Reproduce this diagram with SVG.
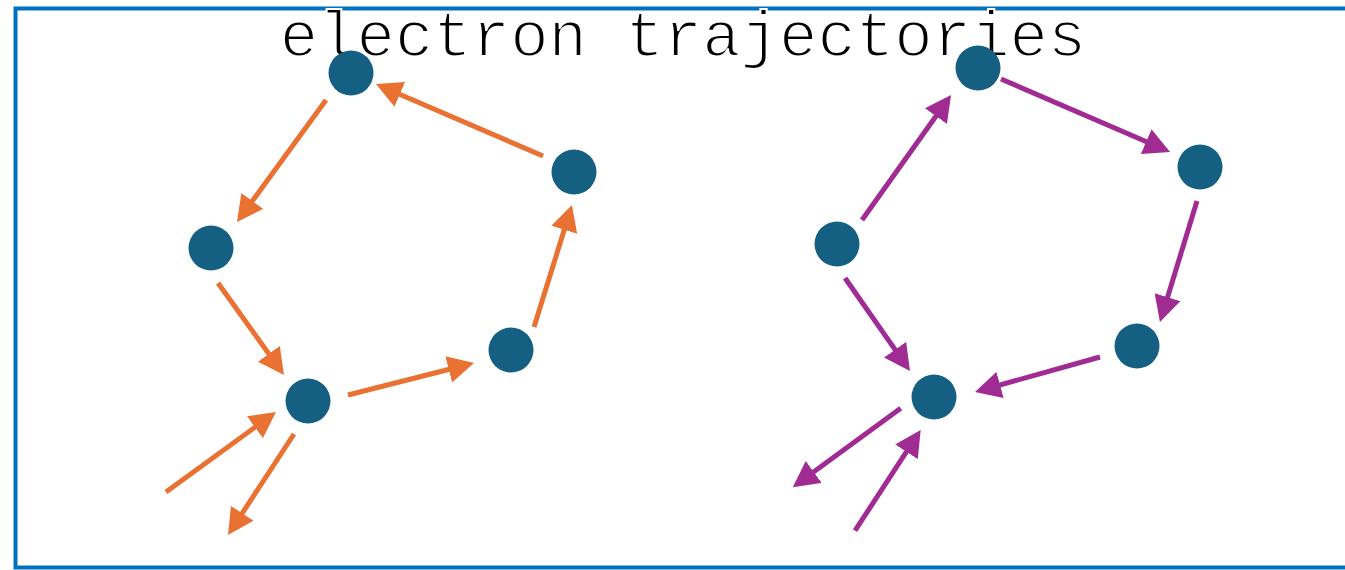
<svg xmlns="http://www.w3.org/2000/svg" width="1345" height="570" viewBox="0 0 1345 570">
  <style>
    .node { fill: #156082; }
    .o { stroke: #E97132; stroke-width: 5; fill: none; marker-end: url(#ho); }
    .p { stroke: #A02B93; stroke-width: 5; fill: none; marker-end: url(#hp); }
    .title { font-family: "Liberation Mono", "Courier New", monospace; font-size: 64px; fill: #000; stroke: #ffffff; stroke-width: 2; }
  </style>
  <defs>
    <marker id="ho" markerUnits="userSpaceOnUse" markerWidth="26" markerHeight="27" refX="18" refY="13.5" orient="auto">
      <path d="M0,0 L26,13.5 L0,27 z" fill="#E97132"/>
    </marker>
    <marker id="hp" markerUnits="userSpaceOnUse" markerWidth="26" markerHeight="27" refX="18" refY="13.5" orient="auto">
      <path d="M0,0 L26,13.5 L0,27 z" fill="#A02B93"/>
    </marker>
  </defs>
  <rect x="0" y="0" width="1345" height="570" fill="#ffffff"/>
  <rect id="frame" x="15.5" y="8.5" width="1340" height="559" fill="none" stroke="#0070C0" stroke-width="4"/>
  <text id="title" class="title" x="683" y="56" text-anchor="middle">electron trajectories</text>

  <g id="connectors">
    <line class="o" x1="326" y1="100" x2="241.7" y2="215.5"/>
    <line class="o" x1="543" y1="156" x2="383.3" y2="87.2"/>
    <line class="o" x1="218" y1="283" x2="279.3" y2="368.5"/>
    <line class="o" x1="348" y1="395" x2="466.2" y2="365"/>
    <line class="o" x1="534" y1="327" x2="569.6" y2="212.6"/>
    <line class="o" x1="166" y1="492" x2="269.5" y2="416.7"/>
    <line class="o" x1="294" y1="434" x2="232.4" y2="528.3"/>

    <line class="p" x1="862" y1="220" x2="946.4" y2="101.5"/>
    <line class="p" x1="1001" y1="79" x2="1162.7" y2="148.8"/>
    <line class="p" x1="1197" y1="201" x2="1162.3" y2="314.4"/>
    <line class="p" x1="1100" y1="357" x2="982.7" y2="389.8"/>
    <line class="p" x1="845" y1="278" x2="905.4" y2="364.4"/>
    <line class="p" x1="900.7" y1="408.3" x2="799.2" y2="482.6"/>
    <line class="p" x1="855" y1="530.7" x2="916.3" y2="436.7"/>
  </g>

  <g id="nA"><circle class="node" cx="351" cy="73" r="22.5"/></g>
  <g id="nB"><circle class="node" cx="574" cy="172" r="22.5"/></g>
  <g id="nC"><circle class="node" cx="211" cy="248" r="22.5"/></g>
  <g id="nD"><circle class="node" cx="511" cy="350" r="22.5"/></g>
  <g id="nE"><circle class="node" cx="308" cy="401" r="22.5"/></g>

  <g id="nF"><circle class="node" cx="978" cy="68" r="22.5"/></g>
  <g id="nG"><circle class="node" cx="1200" cy="167" r="22.5"/></g>
  <g id="nH"><circle class="node" cx="837" cy="244" r="22.5"/></g>
  <g id="nI"><circle class="node" cx="1137" cy="346" r="22.5"/></g>
  <g id="nJ"><circle class="node" cx="934" cy="397" r="22.5"/></g>
</svg>
